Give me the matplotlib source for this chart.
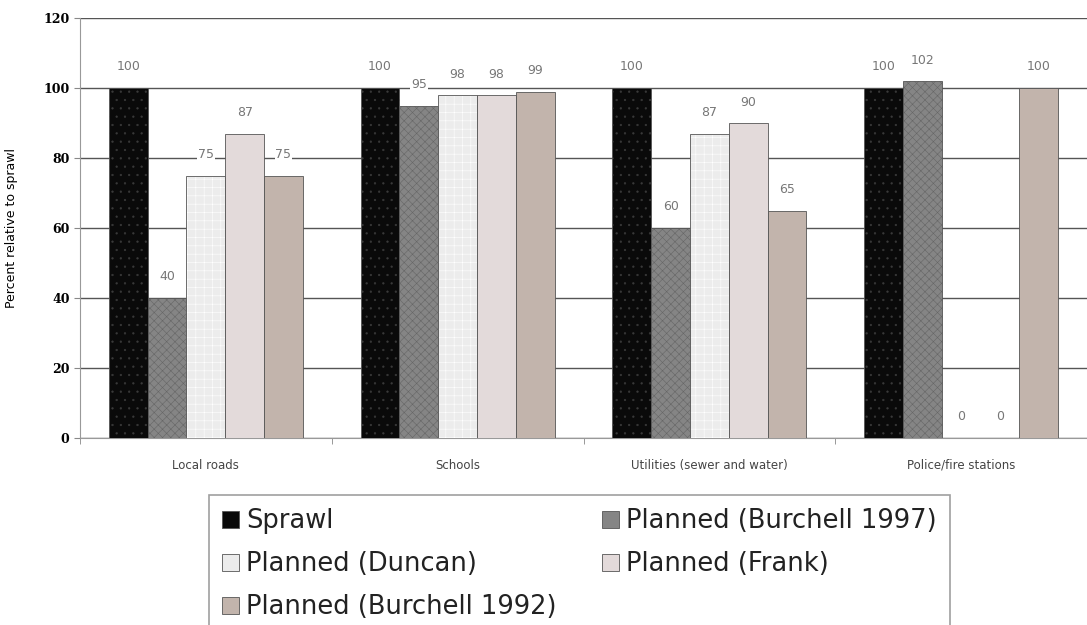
import numpy as np
import matplotlib.pyplot as plt
from matplotlib.patches import Patch
from matplotlib.colors import to_rgba

categories = ["Local roads", "Schools", "Utilities (sewer and water)", "Police/fire stations"]
series = ["Sprawl", "Planned (Burchell 1997)", "Planned (Duncan)",
          "Planned (Frank)", "Planned (Burchell 1992)"]
sprawl = [100, 100, 100, 100]
burchell_1997 = [40, 95, 60, 102]
duncan = [75, 98, 87, 0]
frank = [87, 98, 90, 0]
burchell_1992 = [75, 99, 65, 100]

values = [sprawl, burchell_1997, duncan, frank, burchell_1992]
colors = ["#0a0a0a", "#858585", "#ececec", "#e3dada", "#c2b4ac"]
hatches = ["..", "xxxx", "++", "", ""]
hatch_colors = ["#3a3a3a", "#666666", "#ffffff", "#e3dada", "#c2b4ac"]

plt.rcParams['hatch.linewidth'] = 0.4

fig = plt.figure(figsize=(10.87, 6.25), dpi=100)
ax = fig.add_axes([0.0736, 0.2992, 0.9264, 0.672])

x = np.arange(len(categories))
w = 0.154
for i, vals in enumerate(values):
    pos = x + (i - 2) * w
    bars = ax.bar(pos, vals, width=w, color=colors[i], edgecolor="#555555",
                  linewidth=0.6, hatch=hatches[i], zorder=3)
    for b in bars:
        b._hatch_color = to_rgba(hatch_colors[i])
    for p, v in zip(pos, vals):
        ax.text(p, v + 6, str(v), ha="center", va="center",
                fontsize=9, color="#777777", zorder=4,
                bbox=dict(facecolor="white", edgecolor="none", pad=0.5))

ax.set_xlim(-0.5, 3.5)
ax.set_ylim(0, 120)
ax.set_yticks(range(0, 121, 20))
ax.set_yticklabels([str(t) for t in range(0, 121, 20)],
                   fontfamily="DejaVu Serif", fontweight="bold", fontsize=9)
ax.set_xticks(x)
ax.set_xticklabels(categories, fontsize=8.5, color="#444444")
ax.set_xticks(np.arange(-0.5, 4.0, 1.0), minor=True)
ax.tick_params(axis="x", which="major", length=0, pad=15)
ax.tick_params(axis="x", which="minor", length=4, color="#888888")
ax.tick_params(axis="y", length=4, color="#888888")
ax.yaxis.grid(True, color="#555555", linewidth=1.0, zorder=0)
ax.set_axisbelow(True)
for s in ["top", "right"]:
    ax.spines[s].set_visible(False)
ax.spines["left"].set_color("#999999")
ax.spines["bottom"].set_color("#999999")
ax.set_ylabel("Percent relative to sprawl", fontsize=9)
ax.yaxis.set_label_coords(-0.062, 0.5)

# row-major order as in the original legend (matplotlib fills columns first)
order = [0, 2, 4, 1, 3]
handles = [Patch(facecolor=colors[k], edgecolor="#555555", linewidth=0.6,
                 label=series[k]) for k in order]
leg = fig.legend(handles=handles, ncol=2, loc="upper left",
                 bbox_to_anchor=(0.192, 0.208), frameon=True,
                 fancybox=False, edgecolor="#888888", handlelength=0.65,
                 handleheight=0.65, handletextpad=0.3, columnspacing=1.75,
                 labelspacing=0.66, borderpad=0.52, borderaxespad=0,
                 prop={"family": "DejaVu Sans", "size": 18.5})
leg.get_frame().set_linewidth(1.2)
for t in leg.get_texts():
    t.set_color("#222222")

fig.savefig("out.png", dpi=100)
